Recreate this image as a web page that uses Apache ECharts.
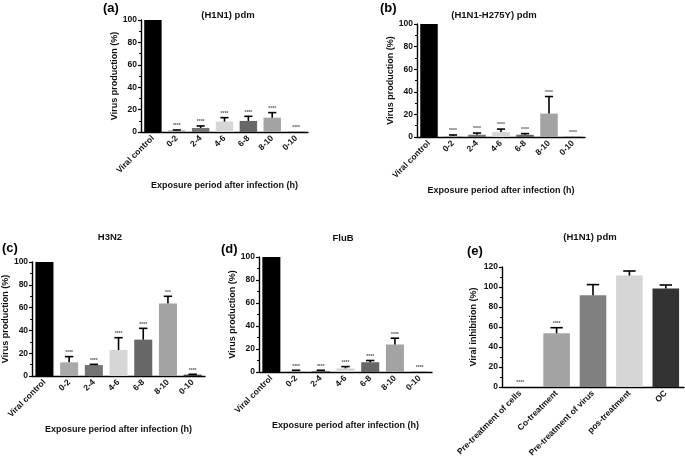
<!DOCTYPE html>
<html>
<head>
<meta charset="utf-8">
<script src="https://cdn.jsdelivr.net/npm/echarts@6/dist/echarts.min.js"></script>
<style>
  html, body { margin: 0; padding: 0; background: #fff; }
  #main { width: 685px; height: 466px; }
</style>
</head>
<body>
<div id="main"></div>
<script>
var myChart = echarts.init(document.getElementById('main'));

// categories
var timeCats = ['Viral control', '0-2', '2-4', '4-6', '6-8', '8-10', '0-10'];
var timeColors = ['#000000', '#a9a9a9', '#737373', '#d6d6d6', '#676767', '#a3a3a3', '#444444'];
var modeCats = ['Pre-treatment of cells', 'Co-treatment', 'Pre-treatment of virus', 'pos-treatment', 'OC'];
var modeColors = ['#bbbbbb', '#a3a3a3', '#808080', '#d6d6d6', '#333333'];

// (a) (H1N1) pdm
var h1n1Mean  = [100, 1.5, 3.6, 9.3, 9.9, 12.8, 0.2];
var h1n1Upper = [100, 1.8, 5.4, 12.8, 14.0, 17.3, 0.2];
var h1n1Stars = ['', '****', '****', '****', '****', '****', '****'];

// (b) (H1N1-H275Y) pdm
var h275yMean  = [100, 0.9, 2.0, 4.4, 2.0, 20.7, 0.2];
var h275yUpper = [100, 1.8, 3.5, 7.0, 3.0, 35.8, 0.2];
var h275yStars = ['', '****', '****', '****', '****', '****', '****'];

// (c) H3N2
var h3n2Mean  = [100, 12.0, 9.6, 22.8, 31.9, 63.5, 1.2];
var h3n2Upper = [100, 17.0, 10.2, 33.6, 41.8, 69.9, 1.5];
var h3n2Stars = ['', '****', '****', '****', '****', '***', '****'];

// (d) FluB
var flubMean  = [100, 0.9, 0.9, 3.2, 8.5, 23.9, 0.2];
var flubUpper = [100, 1.5, 1.5, 4.7, 10.0, 29.4, 0.2];
var flubStars = ['', '****', '****', '****', '****', '****', '****'];

// (e) (H1N1) pdm, viral inhibition
var modeMean  = [0, 53.7, 91.8, 111.4, 98.4];
var modeUpper = [0, 59.3, 102.4, 116.0, 102.0];
var modeStars = ['****', '****', '', '', ''];

var FONT = '"Liberation Sans", Arial, sans-serif';

var panels = [
  { tag: '(a)', title: '(H1N1) pdm', cats: timeCats, colors: timeColors, mean: h1n1Mean, upper: h1n1Upper, stars: h1n1Stars,
    grid: { left: 141, top: 20, width: 167, height: 112 }, max: 100, yName: 'Virus production (%)', xName: 'Exposure period after infection (h)',
    tagPos: [103, 2], titlePos: [228, 15] },
  { tag: '(b)', title: '(H1N1-H275Y) pdm', cats: timeCats, colors: timeColors, mean: h275yMean, upper: h275yUpper, stars: h275yStars,
    grid: { left: 417, top: 24, width: 168, height: 113 }, max: 100, yName: 'Virus production (%)', xName: 'Exposure period after infection (h)',
    tagPos: [380, 2], titlePos: [494, 15] },
  { tag: '(c)', title: 'H3N2', cats: timeCats, colors: timeColors, mean: h3n2Mean, upper: h3n2Upper, stars: h3n2Stars,
    grid: { left: 32, top: 262, width: 173, height: 114 }, max: 100, yName: 'Virus production (%)', xName: 'Exposure period after infection (h)',
    tagPos: [2, 242], titlePos: [110, 237] },
  { tag: '(d)', title: 'FluB', cats: timeCats, colors: timeColors, mean: flubMean, upper: flubUpper, stars: flubStars,
    grid: { left: 259, top: 257, width: 173, height: 115 }, max: 100, yName: 'Virus production (%)', xName: 'Exposure period after infection (h)',
    tagPos: [221, 243], titlePos: [343, 238] },
  { tag: '(e)', title: '(H1N1) pdm', cats: modeCats, colors: modeColors, mean: modeMean, upper: modeUpper, stars: modeStars,
    grid: { left: 502, top: 267, width: 182, height: 120 }, max: 120, yName: 'Viral inhibition (%)', xName: '',
    tagPos: [467, 245], titlePos: [590, 237] }
];

function makeErrorRender(stars) {
  return function (params, api) {
    var i = api.value(0), m = api.value(1), u = api.value(2);
    var base = api.coord([i, m]);
    var top = api.coord([i, u]);
    var half = api.size([1, 0])[0] * 0.17;
    var children = [];
    if (u > m) {
      children.push({ type: 'line', shape: { x1: base[0], y1: base[1], x2: top[0], y2: top[1] },
        style: { stroke: '#000', lineWidth: 1.6 } });
      children.push({ type: 'line', shape: { x1: top[0] - half, y1: top[1], x2: top[0] + half, y2: top[1] },
        style: { stroke: '#000', lineWidth: 1.6 } });
    }
    var s = stars[params.dataIndex];
    if (s) {
      children.push({ type: 'text', x: top[0], y: top[1] - 1.5,
        style: { text: s, fill: '#555', font: 'bold 5px ' + FONT, align: 'center', verticalAlign: 'bottom' } });
    }
    return { type: 'group', children: children };
  };
}

var grids = [], xAxes = [], yAxes = [], series = [], graphics = [];

panels.forEach(function (p, k) {
  grids.push(p.grid);
  xAxes.push({
    type: 'category', gridIndex: k, data: p.cats,
    name: p.xName, nameLocation: 'middle', nameGap: 49,
    nameTextStyle: { fontFamily: FONT, fontWeight: 'bold', fontSize: 9, color: '#111' },
    axisLine: { lineStyle: { color: '#000', width: 1.4 } },
    axisTick: { alignWithLabel: true, length: 3, lineStyle: { color: '#000', width: 1.2 } },
    axisLabel: { rotate: 45, interval: 0, margin: 5, fontFamily: FONT, fontWeight: 'bold', fontSize: 8.5, color: '#111' }
  });
  yAxes.push({
    type: 'value', gridIndex: k, min: 0, max: p.max, interval: 20,
    name: p.yName, nameLocation: 'middle', nameGap: k === 4 ? 24 : 20, nameRotate: 90,
    nameTextStyle: { fontFamily: FONT, fontWeight: 'bold', fontSize: 9, color: '#111' },
    axisLine: { show: true, lineStyle: { color: '#000', width: 1.4 } },
    axisTick: { show: true, length: 3, lineStyle: { color: '#000', width: 1.2 } },
    minorTick: { show: true, splitNumber: 2, length: 2, lineStyle: { color: '#000', width: 1 } },
    splitLine: { show: false },
    axisLabel: { margin: 4, fontFamily: FONT, fontWeight: 'bold', fontSize: 8.5, color: '#111' }
  });
  series.push({
    type: 'bar', xAxisIndex: k, yAxisIndex: k, barCategoryGap: '27%',
    data: p.mean.map(function (v, i) { return { value: v, itemStyle: { color: p.colors[i] } }; }),
    silent: true
  });
  series.push({
    type: 'custom', xAxisIndex: k, yAxisIndex: k, z: 5, silent: true,
    encode: { x: 0, y: [1, 2] },
    data: p.mean.map(function (v, i) { return [i, v, p.upper[i]]; }),
    renderItem: makeErrorRender(p.stars)
  });
  graphics.push({ type: 'text', x: p.tagPos[0], y: p.tagPos[1],
    style: { text: p.tag, fill: '#000', font: 'bold 13px ' + FONT } });
  graphics.push({ type: 'text', x: p.titlePos[0], y: p.titlePos[1],
    style: { text: p.title, fill: '#111', font: 'bold 9.5px ' + FONT, align: 'center', verticalAlign: 'middle' } });
});

var option = {
  backgroundColor: '#fff',
  animation: false,
  grid: grids,
  xAxis: xAxes,
  yAxis: yAxes,
  series: series,
  graphic: graphics
};

myChart.setOption(option);
</script>
</body>
</html>
